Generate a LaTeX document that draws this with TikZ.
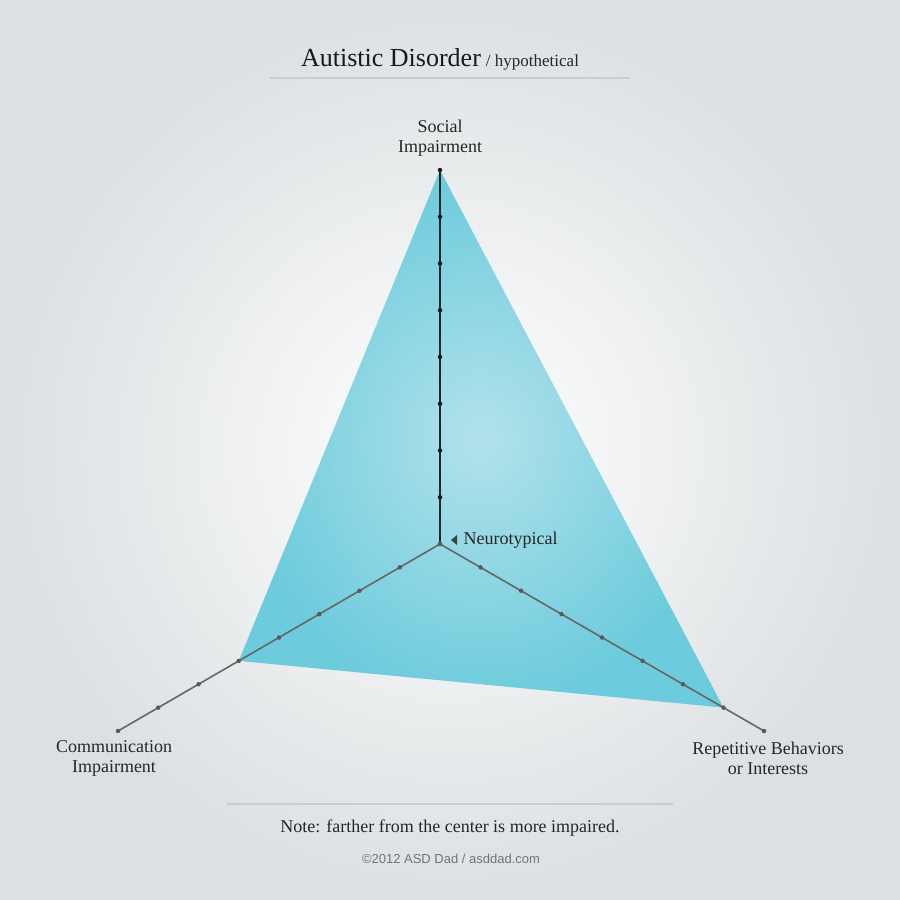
\documentclass[tikz,border=0pt]{standalone}
\usepackage{fontspec}
\usetikzlibrary{calc}
\setmainfont{Liberation Serif}
\newfontfamily\sansf{Liberation Sans}
\begin{document}
\begin{tikzpicture}[x=1pt,y=-1pt,
  tick/.style={circle,fill=#1,inner sep=0pt,minimum size=4.5pt},
  lbl/.style={align=center,font=\fontsize{18}{20}\selectfont,text=black!85}]
\useasboundingbox (0,0) rectangle (900,900);
\definecolor{bgedge}{HTML}{DCE0E2}
\definecolor{tealedge}{HTML}{6CCBDC}
\definecolor{tealmid}{HTML}{B2E2EB}
\shade[inner color=white,outer color=bgedge] (0,0) rectangle (900,900);
\coordinate (C) at (440,544);
\coordinate (T) at (440,170);
\coordinate (L) at (118,731);
\coordinate (R) at (764,731);
\shade[inner color=tealmid,outer color=tealedge] (T) -- ($(C)!0.625!(L)$) -- ($(C)!0.875!(R)$) -- cycle;
\draw[line width=1.6pt,black!60] (C) -- (L);
\draw[line width=1.6pt,black!60] (C) -- (R);
\draw[line width=1.6pt,black!85] (C) -- (T);
\foreach \i in {1,...,8}{
  \node[tick=black!65] at ($(C)!\i/8!(L)$) {};
  \node[tick=black!65] at ($(C)!\i/8!(R)$) {};
  \node[tick=black!90] at ($(C)!\i/8!(T)$) {};
}
\node[tick=black!65] (c0) at (C) {};
\node[lbl,anchor=south] (s) at (440,160) {Social\\Impairment};
\node[lbl] (ci) at (114,758) {Communication\\Impairment};
\node[lbl] (rb) at (768,758) {Repetitive Behaviors\\or Interests};
\fill[black!75] (451,540) -- (457,535) -- (457,545) -- cycle;
\node[lbl,anchor=west] (n) at (460,540) {Neurotypical};
\node[font=\fontsize{26}{28}\selectfont,text=black!90] (t) at (391,58) {Autistic Disorder};
\node[font=\fontsize{17}{20}\selectfont,text=black!85,anchor=base west] (h) at ([xshift=-2pt]t.base east) {/ hypothetical};
\draw[black!20,line width=1.2pt] (270,78) -- (630,78);
\draw[black!20,line width=1.2pt] (227,804) -- (673,804);
\node[lbl] (note) at (450,828) {Note: farther from the center is more impaired.};
\node[font=\sansf\fontsize{13}{15}\selectfont,text=black!55] (cp) at (451,859) {©2012 ASD Dad / asddad.com};
\end{tikzpicture}
\end{document}
